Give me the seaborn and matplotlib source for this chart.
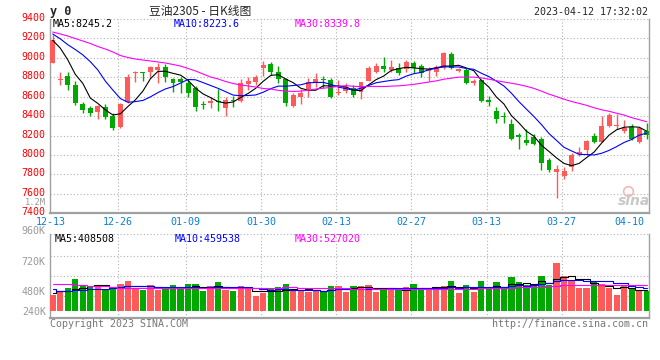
import matplotlib
matplotlib.use('Agg')
import matplotlib.pyplot as plt
import matplotlib.transforms as mtransforms
import numpy as np
import pandas as pd
import seaborn as sns

# datos (indice de sesion 0..79, 12-13 .. 04-12)
opens = [8950, 8775, 8812, 8720, 8520, 8480, 8445, 8490, 8405, 8285,
         8540, 8840, 8846, 8857, 8870, 8908, 8778, 8782, 8737, 8692,
         8520, 8538, 8555, 8486, 8562, 8558, 8727, 8754, 8900, 8933,
         8857, 8778, 8504, 8600, 8680, 8744, 8782, 8771, 8634, 8660,
         8692, 8645, 8764, 8857, 8915, 8874, 8892, 8881, 8950, 8919,
         8867, 8857, 8892, 9039, 8864, 8874, 8744, 8771, 8565, 8455,
         8404, 8315, 8205, 8154, 8188, 8161, 7948, 7822, 7783, 7873,
         8007, 8051, 8195, 8137, 8298, 8300, 8250, 8291, 8137, 8250]
highs = [9234, 8857, 8857, 8761, 8548, 8504, 8510, 8524, 8430, 8530,
         8830, 8864, 8850, 8915, 8943, 8933, 8790, 8805, 8771, 8710,
         8560, 8600, 8676, 8600, 8605, 8778, 8805, 8823, 8970, 8960,
         8915, 8795, 8634, 8676, 8795, 8846, 8812, 8790, 8771, 8740,
         8720, 8755, 8915, 8950, 9005, 8977, 8950, 8977, 8970, 8936,
         8902, 8926, 9060, 9062, 8890, 8890, 8778, 8780, 8607, 8497,
         8445, 8367, 8230, 8264, 8216, 8188, 7965, 7897, 7880, 8023,
         8080, 8154, 8229, 8400, 8432, 8421, 8360, 8315, 8290, 8325]
lows = [8945, 8720, 8668, 8514, 8428, 8400, 8367, 8370, 8258, 8275,
        8530, 8754, 8761, 8790, 8737, 8754, 8651, 8641, 8600, 8456,
        8470, 8480, 8455, 8400, 8490, 8550, 8668, 8720, 8812, 8823,
        8744, 8505, 8497, 8524, 8600, 8702, 8690, 8583, 8617, 8640,
        8593, 8573, 8760, 8846, 8857, 8857, 8823, 8857, 8840, 8805,
        8764, 8812, 8885, 8881, 8850, 8730, 8720, 8545, 8504, 8326,
        8326, 8150, 8058, 8103, 8103, 7845, 7830, 7560, 7750, 7835,
        7990, 8000, 8120, 8130, 8285, 8264, 8223, 8150, 8120, 8164]
closes = [9183, 8780, 8720, 8538, 8463, 8428, 8504, 8388, 8275, 8524,
          8802, 8850, 8840, 8908, 8902, 8805, 8744, 8748, 8641, 8497,
          8510, 8555, 8541, 8565, 8555, 8743, 8764, 8805, 8926, 8857,
          8778, 8538, 8617, 8641, 8754, 8782, 8768, 8600, 8648, 8700,
          8617, 8748, 8892, 8919, 8881, 8902, 8846, 8960, 8892, 8840,
          8881, 8908, 9052, 8892, 8881, 8744, 8764, 8558, 8548, 8370,
          8386, 8164, 8182, 8120, 8113, 7920, 7845, 7852, 7835, 8000,
          8034, 8144, 8137, 8298, 8411, 8308, 8274, 8161, 8274, 8205]
volumes = [437e3, 465e3, 497e3, 574e3, 517e3, 517e3, 512e3, 491e3, 503e3, 531e3,
           557e3, 500e3, 480e3, 523e3, 480e3, 491e3, 523e3, 489e3, 531e3, 531e3,
           471e3, 514e3, 549e3, 480e3, 471e3, 514e3, 491e3, 429e3, 454e3, 486e3,
           506e3, 531e3, 480e3, 480e3, 463e3, 471e3, 471e3, 514e3, 514e3, 465e3,
           514e3, 514e3, 523e3, 465e3, 486e3, 486e3, 480e3, 506e3, 531e3, 497e3,
           489e3, 506e3, 514e3, 557e3, 454e3, 523e3, 463e3, 557e3, 486e3, 549e3,
           497e3, 591e3, 549e3, 523e3, 514e3, 600e3, 523e3, 714e3, 600e3, 557e3,
           497e3, 497e3, 549e3, 531e3, 497e3, 437e3, 514e3, 497e3, 471e3, 471e3]

# medias moviles al inicio (dependen de sesiones anteriores)
ma5_head = [9180, 9100, 8980, 8830]
ma10_head = [9245, 9195, 9135, 9085, 9030, 8960, 8875, 8760, 8668]
ma30_head = [9265, 9245, 9224, 9198, 9173, 9147, 9116, 9090, 9060, 9023,
             9003, 8987, 8977, 8967, 8957, 8946, 8931, 8915, 8890, 8864,
             8833, 8802, 8782, 8756, 8735, 8720, 8710, 8699, 8684]
vol_ma5_head = [460e3, 474e3, 474e3, 489e3]
vol_ma10_head = [486e3, 474e3, 474e3, 480e3, 480e3, 486e3, 486e3, 493e3, 500e3]
vol_ma30_head = [531e3, 531e3, 531e3, 528e3, 522e3, 520e3, 520e3, 515e3, 505e3, 500e3,
                 497e3, 497e3, 497e3, 497e3, 497e3, 496e3, 496e3, 496e3, 496e3, 496e3,
                 495e3, 495e3, 495e3, 495e3, 495e3, 496e3, 496e3, 497e3, 498e3]

tick_idx = [0, 9, 18, 28, 38, 48, 58, 68, 77]
tick_labels = ['12-13', '12-26', '01-09', '01-30', '02-13', '02-27', '03-13', '03-27', '04-10']
price_ticks = [7400, 7600, 7800, 8000, 8200, 8400, 8600, 8800, 9000, 9200, 9400]
vol_ticks = [240e3, 480e3, 720e3, 960e3]
vol_tick_labels = ['240K', '480K', '720K', '960K', '1.2M']

title = '豆油2305 - 日K线图'
timestamp = '2023-04-12 17:32:02'
ma_texts = ['MA5:8245.2', 'MA10:8223.6', 'MA30:8339.8']
vol_ma_texts = ['MA5:408508', 'MA10:459538', 'MA30:527020']

RED = '#ff5a5a'
GREEN = '#00a800'
GRID = '#b0b0b0'
FRAME = '#a0a0a0'
VOL_BASE = 300e3
VOL_GRID = [433e3, 603e3, 774e3]

df = pd.DataFrame({'open': opens, 'high': highs, 'low': lows,
                   'close': closes, 'volume': volumes})
df['x'] = np.arange(len(df))
df['color'] = np.where(df['close'] >= df['open'], RED, GREEN)


def moving_average(s, window, head):
    ma = s.rolling(window).mean()
    ma.iloc[:len(head)] = head
    return ma


df['ma5'] = moving_average(df['close'], 5, ma5_head)
df['ma10'] = moving_average(df['close'], 10, ma10_head)
df['ma30'] = moving_average(df['close'], 30, ma30_head)
df['vma5'] = moving_average(df['volume'], 5, vol_ma5_head)
df['vma10'] = moving_average(df['volume'], 10, vol_ma10_head)
df['vma30'] = moving_average(df['volume'], 30, vol_ma30_head)

sns.set_style('white')
plt.rcParams['font.family'] = ['DejaVu Sans Mono', 'Noto Sans CJK SC']

W, H = 660, 360
fig = plt.figure(figsize=(W / 100, H / 100), dpi=100)
ax = fig.add_axes([50 / W, 1 - 213.3 / H, 599.3 / W, 194.4 / H])
axv = fig.add_axes([50 / W, 1 - 318.3 / H, 599.3 / W, 84.3 / H])

xlim = (-0.36, 79.34)
grid_x = [i - 0.3 for i in tick_idx[1:-1]]
dotted = (0, (1, 2))

# velas
ax.vlines(df['x'], df['low'], df['high'], colors=df['color'], lw=1.0, zorder=3)
body_bottom = df[['open', 'close']].min(axis=1)
body_h = (df['close'] - df['open']).abs().clip(lower=10)
ax.bar(df['x'], body_h, bottom=body_bottom, width=0.66, color=df['color'],
       linewidth=0, zorder=4)

# medias moviles
sns.lineplot(data=df, x='x', y='ma5', ax=ax, color='black', lw=0.8, zorder=5)
sns.lineplot(data=df, x='x', y='ma10', ax=ax, color='#0000ff', lw=0.8, zorder=5)
sns.lineplot(data=df, x='x', y='ma30', ax=ax, color='#ff00ff', lw=0.8, zorder=5)

ax.set_xlim(*xlim)
ax.set_ylim(7400, 9400)
ax.set_yticks(price_ticks)
ax.set_yticklabels([str(t) for t in price_ticks], color='red', fontsize=7.2)
ax.set_xticks([i - 0.3 for i in tick_idx])
ax.set_xticklabels(tick_labels, color='#0a7fd0', fontsize=7.2)
ax.tick_params(length=0, pad=3)
ax.set_xlabel('')
ax.set_ylabel('')
up2 = mtransforms.ScaledTranslation(0, 0.02, fig.dpi_scale_trans)
for lab in ax.get_yticklabels():
    lab.set_transform(lab.get_transform() + up2)
for t in price_ticks[1:-1]:
    ax.axhline(t, color=GRID, lw=0.8, ls=dotted, zorder=1)
for gx in grid_x:
    ax.axvline(gx, color=GRID, lw=0.8, ls=dotted, zorder=1)
ax.axhline(9400, color=GRID, lw=0.8, ls=dotted, zorder=1, clip_on=False)

# volumen
axv.bar(df['x'], df['volume'] - VOL_BASE, bottom=VOL_BASE, width=0.84,
        color=df['color'], linewidth=0, zorder=3)
axv.step(df['x'], df['vma5'], where='mid', color='black', lw=0.8, zorder=4)
axv.step(df['x'], df['vma10'], where='mid', color='#0000ff', lw=0.8, zorder=4)
axv.step(df['x'], df['vma30'], where='mid', color='#ff00ff', lw=0.8, zorder=4)
axv.set_xlim(*xlim)
axv.set_ylim(240e3, 960e3)
axv.set_yticks(vol_ticks)
axv.set_yticklabels(vol_tick_labels[:4], color='#999999', fontsize=7.2)
axv.set_xticks([])
axv.tick_params(length=0, pad=3)
for lab, dy in zip(axv.get_yticklabels(), [0.07, -0.01, 0.01, 0.04]):
    lab.set_transform(lab.get_transform() +
                      mtransforms.ScaledTranslation(0, dy, fig.dpi_scale_trans))
for t in VOL_GRID:
    axv.axhline(t, color=GRID, lw=0.8, ls=dotted, zorder=1)
for gx in grid_x:
    axv.axvline(gx, color=GRID, lw=0.8, ls=dotted, zorder=1)
axv.axhline(960e3, color=GRID, lw=0.8, ls=dotted, zorder=1, clip_on=False)
trans = mtransforms.blended_transform_factory(axv.transAxes, axv.transData)
axv.text(-0.006, 1.225e6, vol_tick_labels[4], transform=trans, ha='right',
         va='center', color='#999999', fontsize=6.3, clip_on=False)

for a in (ax, axv):
    a.spines['top'].set_visible(False)
    for s in ('left', 'right'):
        a.spines[s].set_color(FRAME)
        a.spines[s].set_linewidth(1.0)
    a.spines['bottom'].set_color(FRAME)
    a.spines['bottom'].set_linewidth(1.6)


def px(x, y):
    return x / W, 1 - y / H


# textos
fig.text(*px(50, 11), 'y 0', fontsize=8.5, fontweight='bold', va='center')
fig.text(*px(200, 11), title, fontsize=8.5, ha='center', va='center',
         family=['Noto Sans CJK SC', 'DejaVu Sans'])
fig.text(*px(648, 12), timestamp, fontsize=7.2, ha='right', va='center')
for x0, txt, c in zip([53, 174, 295], ma_texts, ['black', '#0000ff', '#ff00ff']):
    fig.text(*px(x0, 24), txt, fontsize=7.2, color=c, va='center')
for x0, txt, c in zip([55, 175, 295], vol_ma_texts, ['black', '#0000ff', '#ff00ff']):
    fig.text(*px(x0, 239), txt, fontsize=7.2, color=c, va='center')
fig.text(*px(50, 324), 'Copyright 2023 SINA.COM', fontsize=7.2, color='#777777', va='center')
fig.text(*px(648, 324), 'http://finance.sina.com.cn', fontsize=7.2, color='#777777',
         ha='right', va='center')

# marca de agua
fig.text(*px(634, 201), 'sina', fontsize=10, color='#c8c8c8', style='italic',
         fontweight='bold', ha='center', va='center', family='DejaVu Sans')
ax.plot([0.964], [0.115], marker='o', ms=7, mfc='none', mec='#f2b8b8', mew=1.2,
        transform=ax.transAxes, clip_on=False)

fig.savefig('out.png', dpi=100)
